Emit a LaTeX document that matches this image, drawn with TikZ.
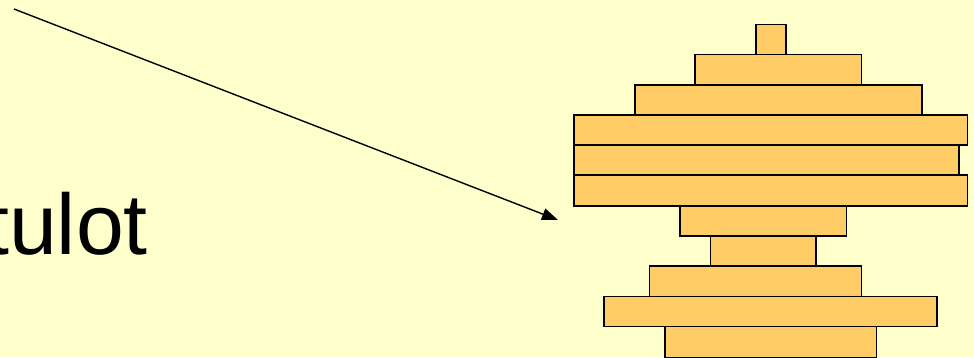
\documentclass[tikz,border=0pt]{standalone}
\usepackage{fontspec}
\setmainfont{Liberation Sans}
\usetikzlibrary{arrows.meta}
\definecolor{bgyellow}{HTML}{FFFFCC}
\definecolor{barfill}{HTML}{FFCC66}
\tikzset{
  bar/.style={draw=black, fill=barfill, line width=1.6pt},
  pointer/.style={draw=black, line width=1.4pt, -{Triangle[length=16pt,width=12pt]}},
  bigtext/.style={inner sep=0pt, font=\fontsize{86}{100}\selectfont, text=black}
}
\begin{document}
\begin{tikzpicture}[x=1pt, y=-1pt]
\useasboundingbox (0,0) rectangle (974,357);
\clip (0,0) rectangle (974,357);
\fill[bgyellow] (0,0) rectangle (974,357);
% stack of bars
\draw[bar] (755.7,24.3) rectangle (785.7,54.3);
\draw[bar] (694.7,54.3) rectangle (861.3,84.7);
\draw[bar] (634.7,84.7) rectangle (922,115);
\draw[bar] (573.7,115) rectangle (967.3,145);
\draw[bar] (573.7,145) rectangle (959,175);
\draw[bar] (573.7,175) rectangle (967.3,205.7);
\draw[bar] (679.7,205.7) rectangle (846.3,236);
\draw[bar] (710.3,236) rectangle (816,266);
\draw[bar] (649.3,266) rectangle (861.3,296.3);
\draw[bar] (604,296.3) rectangle (937,326.3);
\draw[bar] (664.7,326.3) rectangle (876.3,357.5);
% text (cut at the left edge, as in the reference)
\node[bigtext, anchor=base east] (label) at (148,254) {tulot};
% arrow
\coordinate (start) at (14,9);
\coordinate (tip) at (558,220);
\draw[pointer] (start) -- (tip);
\end{tikzpicture}
\end{document}
